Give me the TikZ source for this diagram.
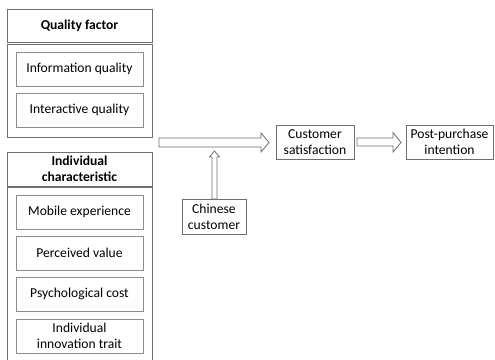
\documentclass[tikz,border=0pt]{standalone}
\usepackage{fontspec}
\setmainfont{Carlito}
\usetikzlibrary{positioning}
\definecolor{edge}{HTML}{6E6E6E}
\definecolor{inedge}{HTML}{8C8C8C}
\tikzset{
  box/.style={draw=edge, line width=0.9pt, fill=white, inner sep=0pt, align=center, font=\fontsize{13.6}{16}\selectfont},
  head/.style={box, font=\bfseries\fontsize{13.6}{16}\selectfont},
  item/.style={draw=inedge, line width=0.9pt, fill=white, inner sep=0pt, align=center, font=\fontsize{13.6}{16}\selectfont, minimum width=127pt, minimum height=34pt},
  hollow/.style={draw=edge, line width=0.8pt, fill=white, line join=miter}
}
\begin{document}
\begin{tikzpicture}[x=1pt,y=-1pt]
\useasboundingbox (0,0) rectangle (495,359);
% quality factor group
\node[head, minimum width=145pt, minimum height=33pt] (qf) at (79.5,26) {Quality factor};
\node[box, minimum width=145pt, minimum height=93pt] (qfbox) at (79.5,90.5) {};
\node[item] (iq) at (79.5,69) {Information quality};
\node[item] (xq) at (79.5,110) {Interactive quality};
% individual characteristic group
\node[head, minimum width=145pt, minimum height=34pt] (ic) at (79.5,169) {Individual\\characteristic};
\draw[edge, line width=0.9pt] (7,362) |- (152,187) -- (152,362);
\node[item] (me) at (79.5,212) {Mobile experience};
\node[item] (pv) at (79.5,253) {Perceived value};
\node[item] (pc) at (79.5,294) {Psychological cost};
\node[item] (it) at (79.5,336) {Individual\\innovation trait};
% outcome chain
\node[box, minimum width=78pt, minimum height=34pt] (cs) at (315,142) {Customer\\satisfaction};
\node[box, minimum width=87pt, minimum height=34pt] (pp) at (449.5,142) {Post-purchase\\intention};
\node[box, minimum width=64pt, minimum height=35pt] (cc) at (214,216.5) {Chinese\\customer};
% block arrows
\draw[hollow] (159,138) -- (261,138) -- (261,133) -- (269,142.5) -- (261,152) -- (261,147) -- (159,147) -- cycle;
\draw[hollow] (357,138) -- (393,138) -- (393,132.5) -- (401,142.5) -- (393,152) -- (393,146) -- (357,146) -- cycle;
\draw[hollow] (212,199) -- (212,157) -- (209.5,157) -- (214.5,151) -- (219.5,157) -- (217,157) -- (217,199) -- cycle;
\end{tikzpicture}
\end{document}
